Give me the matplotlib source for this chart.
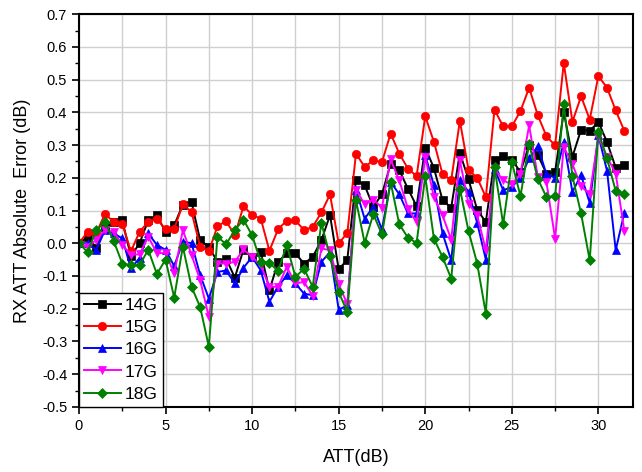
import matplotlib
matplotlib.use("Agg")
import matplotlib.pyplot as plt
from matplotlib.ticker import MultipleLocator, FormatStrFormatter
import numpy as np

att = [i * 0.5 for i in range(64)]

g14 = [0.0, 0.02, -0.015, 0.05, 0.065, 0.07, -0.04, 0.0, 0.07, 0.085,
       0.035, 0.055, 0.118, 0.126, 0.009, -0.011, -0.057, -0.047, -0.105, -0.02,
       -0.042, -0.027, -0.144, -0.057, -0.031, -0.031, -0.062, -0.042, 0.009, 0.086,
       -0.08, -0.05, 0.194, 0.177, 0.111, 0.15, 0.243, 0.223, 0.167, 0.113,
       0.292, 0.23, 0.131, 0.109, 0.276, 0.195, 0.102, 0.065, 0.255, 0.266,
       0.255, 0.218, 0.30, 0.27, 0.213, 0.218, 0.401, 0.264, 0.347, 0.343,
       0.371, 0.309, 0.231, 0.238]
g15 = [0.0, 0.035, 0.03, 0.09, 0.065, 0.06, -0.025, 0.035, 0.065, 0.075,
       0.042, 0.044, 0.119, 0.096, -0.011, -0.025, 0.052, 0.068, 0.024, 0.113,
       0.087, 0.075, -0.023, 0.043, 0.069, 0.07, 0.04, 0.05, 0.094, 0.149,
       0.0, 0.031, 0.274, 0.233, 0.253, 0.248, 0.335, 0.274, 0.228, 0.205,
       0.388, 0.31, 0.211, 0.193, 0.374, 0.224, 0.2, 0.141, 0.408, 0.357,
       0.357, 0.404, 0.475, 0.391, 0.327, 0.299, 0.551, 0.371, 0.449, 0.378,
       0.511, 0.475, 0.406, 0.343]
g16 = [0.0, 0.0, -0.02, 0.04, 0.03, 0.015, -0.077, -0.045, 0.03, -0.005,
       -0.02, -0.07, 0.005, 0.0, -0.097, -0.169, -0.088, -0.083, -0.123, -0.075,
       -0.042, -0.083, -0.179, -0.133, -0.098, -0.123, -0.154, -0.159, -0.057, -0.027,
       -0.203, -0.19, 0.164, 0.075, 0.111, 0.042, 0.187, 0.15, 0.091, 0.091,
       0.269, 0.177, 0.03, -0.052, 0.194, 0.157, 0.062, -0.05, 0.228, 0.162,
       0.172, 0.2, 0.259, 0.296, 0.211, 0.2, 0.309, 0.157, 0.208, 0.123,
       0.33, 0.221, -0.021, 0.093]
g17 = [-0.005, -0.01, 0.01, 0.04, 0.035, -0.005, -0.035, -0.034, 0.02, -0.03,
       -0.03, -0.092, 0.04, -0.035, -0.113, -0.225, -0.062, -0.062, -0.057, -0.019,
       -0.042, -0.067, -0.133, -0.133, -0.072, -0.123, -0.118, -0.161, -0.016, -0.021,
       -0.125, -0.186, 0.164, 0.119, 0.133, 0.109, 0.256, 0.192, 0.106, 0.065,
       0.264, 0.141, 0.085, 0.011, 0.253, 0.121, 0.085, -0.021, 0.228, 0.192,
       0.18, 0.213, 0.36, 0.203, 0.187, 0.014, 0.294, 0.241, 0.174, 0.15,
       0.325, 0.264, 0.213, 0.038]
g18 = [0.0, -0.027, 0.04, 0.065, 0.008, -0.062, -0.067, -0.067, -0.02, -0.094,
       -0.05, -0.166, -0.01, -0.133, -0.195, -0.316, 0.02, -0.003, 0.04, 0.072,
       0.024, -0.057, -0.06, -0.085, -0.005, -0.103, -0.078, -0.133, 0.062, -0.04,
       -0.149, -0.21, 0.131, 0.001, 0.089, 0.027, 0.187, 0.058, 0.017, 0.001,
       0.205, 0.014, -0.042, -0.108, 0.167, 0.037, -0.062, -0.215, 0.233, 0.058,
       0.248, 0.144, 0.304, 0.197, 0.141, 0.144, 0.424, 0.205, 0.091, -0.052,
       0.34, 0.259, 0.16, 0.15]

labels = ["14G", "15G", "16G", "17G", "18G"]
series = [g14, g15, g16, g17, g18]
colors = ["#000000", "#ff0000", "#0000ff", "#ff00ff", "#008000"]
markers = ["s", "o", "^", "v", "D"]

plt.rcParams['font.family'] = ['Liberation Sans', 'DejaVu Sans']

fig = plt.figure(figsize=(6.42, 4.72), dpi=100)
ax = fig.add_axes([0.123, 0.138, 0.863, 0.832])

for y, lab, c, m in zip(series, labels, colors, markers):
    ms = 6.0 if m != "D" else 5.5
    ax.plot(att, y, color=c, marker=m, markersize=ms, linewidth=1.4,
            label=lab, markeredgewidth=0.5, markeredgecolor=c)

ax.set_xlim(0, 32)
ax.set_ylim(-0.5, 0.7)
ax.xaxis.set_major_locator(MultipleLocator(5))
ax.xaxis.set_minor_locator(MultipleLocator(2.5))
ax.yaxis.set_major_locator(MultipleLocator(0.1))
ax.yaxis.set_minor_locator(MultipleLocator(0.05))
ax.yaxis.set_major_formatter(FormatStrFormatter('%.1f'))

ax.grid(True, which='major', axis='y', color='#cfcfcf', linewidth=1.0)
ax.grid(True, which='both', axis='x', color='#cfcfcf', linewidth=1.0)
ax.set_axisbelow(True)

ax.tick_params(which='major', direction='out', length=5, width=1.2, labelsize=10.5)
ax.tick_params(which='minor', direction='out', length=3, width=1.0)
ax.tick_params(axis='x', which='both', top=False)
ax.tick_params(axis='y', which='both', right=False)
for s in ax.spines.values():
    s.set_linewidth(1.5)
    s.set_color('#000000')

ax.set_xlabel("ATT(dB)", fontsize=13, labelpad=12)
ax.set_ylabel("RX ATT Absolute  Error (dB)", fontsize=13, labelpad=8)

leg = ax.legend(loc='lower left', fontsize=12.5, frameon=True, fancybox=False,
                edgecolor='black', framealpha=1.0, handlelength=2.1,
                borderaxespad=0.0, labelspacing=0.4, handletextpad=0.25,
                borderpad=0.3)
leg.get_frame().set_linewidth(1.0)

fig.savefig("out.png", dpi=100)
